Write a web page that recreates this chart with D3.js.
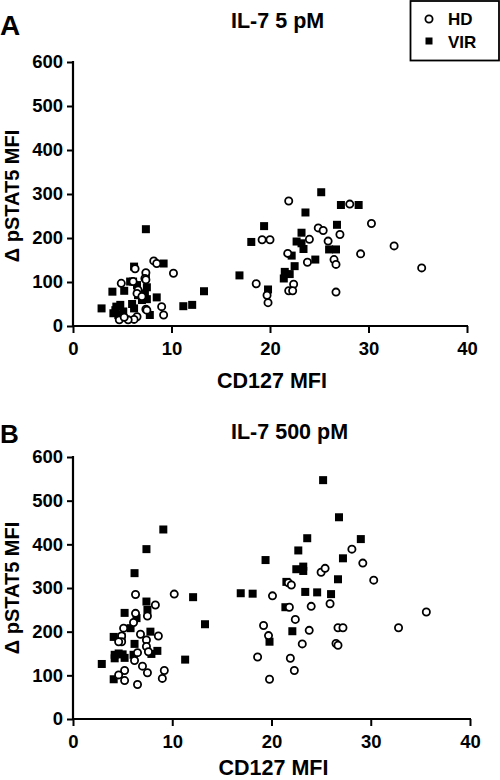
<!DOCTYPE html>
<html><head><meta charset="utf-8">
<script src="https://cdn.jsdelivr.net/npm/d3@7"></script>
<style>
body{margin:0;background:#fff}
svg{display:block}
text{font-family:"Liberation Sans",Arial,Helvetica,sans-serif;font-weight:bold;fill:#000}
</style></head><body>
<script>
// ---- data ----
const xTicks = [0, 10, 20, 30, 40];
const yTicks = [0, 100, 200, 300, 400, 500, 600];
const panelLetters = ["A", "B"];
const panelTitles = ["IL-7 5 pM", "IL-7 500 pM"];
const seriesNames = ["HD", "VIR"];
const xLabel = "CD127 MFI";
const yLabel = "\u0394 pSTAT5 MFI";

// Panel A, HD (open circles) [CD127 MFI, ΔpSTAT5 MFI]
const hdA = [[21.9,284],[28.1,277],[30.3,233],[24.9,223],[25.4,217],[27.1,208],[19.2,196],[20.0,196],[24.0,197],[25.9,193],[21.8,165],[29.2,164],[26.5,151],[26.7,140],[23.8,145],[18.6,96],[22.4,95],[19.7,70],[19.8,53],[21.9,80],[22.3,80],[26.7,77],[10.2,120],[32.6,182],[35.4,132],
  [8.2,148],[8.5,142],[4.9,97],[7.4,121],[7.3,108],[6.1,101],[6.6,82],[6.5,74],[9.0,44],[9.2,25],[7.4,38],[6.5,21],[6.2,15],[5.6,14],[7.0,67],[6.3,130],[7.4,105],[7.5,36],[4.7,14],[5.2,20]];
// Panel A, VIR (filled squares)
const virA = [[25.2,304],[23.6,258],[27.2,275],[29.0,275],[19.4,227],[18.1,191],[23.2,212],[22.7,192],[23.2,188],[23.4,175],[26.8,230],[26.0,174],[26.7,174],[24.6,151],[22.2,160],[22.5,136],[21.5,123],[22.0,118],[21.4,108],[16.9,115],[19.8,83],[13.3,79],[12.1,48],[11.2,45],
  [7.4,220],[6.2,135],[9.2,142],[4.0,78],[5.2,80],[5.8,101],[6.1,101],[6.5,93],[7.4,116],[7.5,88],[6.6,70],[8.5,65],[7.5,61],[2.9,40],[4.4,44],[4.8,48],[4.1,29],[4.6,25],[4.9,21],[4.3,36],[5.1,33],[6.0,50],[6.2,40],[7.8,25],[7.0,59],[7.3,74]];
// Panel B, HD
const hdB = [[28.1,389],[29.2,357],[30.3,318],[25.0,336],[25.4,345],[21.7,312],[22.0,307],[20.1,282],[10.2,286],[21.8,256],[24.0,258],[25.9,264],[22.4,228],[19.2,214],[19.7,191],[23.8,203],[23.1,172],[26.7,209],[27.2,209],[26.5,173],[26.7,169],[18.6,142],[21.9,139],[22.3,111],[19.8,91],[32.8,209],[35.6,245],
  [6.3,285],[8.3,261],[6.3,242],[7.5,236],[6.1,221],[5.1,208],[4.9,190],[6.8,194],[8.6,190],[4.9,177],[4.6,177],[7.4,181],[7.4,166],[7.6,154],[6.5,152],[6.2,134],[7.0,121],[7.5,106],[9.2,111],[9.0,93],[5.2,111],[4.6,101],[5.2,88],[6.5,79]];
// Panel B, VIR
const virB = [[25.2,547],[26.8,462],[23.6,414],[29.0,412],[22.7,386],[19.4,364],[27.2,368],[22.5,343],[23.2,349],[23.2,339],[26.7,320],[21.5,314],[16.9,288],[18.1,287],[23.4,291],[24.6,290],[26.0,286],[12.1,279],[21.4,256],[22.1,201],[19.8,177],[13.3,217],[11.3,136],
  [9.1,434],[7.4,389],[6.2,334],[7.4,269],[7.5,250],[5.2,243],[6.4,231],[5.8,208],[7.8,200],[4.1,188],[4.9,188],[6.2,172],[8.5,156],[7.9,149],[4.2,147],[5.0,148],[4.2,139],[6.1,147],[2.9,126],[4.1,91],[5.2,140],[4.6,150]];

// ---- drawing ----
const W = 500, H = 780;
const svg = d3.select("body").append("svg").attr("width", W).attr("height", H);

const layout = [
  {hd: hdA, vir: virA, xl: 73, xr: 467, yb: 326, yt: 62, letterY: 35, letterSize: 28, titleY: 28, xLabY: 388, yLabC: 196},
  {hd: hdB, vir: virB, xl: 73, xr: 470, yb: 719, yt: 457, letterY: 443, letterSize: 26, titleY: 439, xLabY: 775, yLabC: 588}
];

layout.forEach((p, i) => {
  const x = d3.scaleLinear().domain([0, 40]).range([p.xl, p.xr]);
  const y = d3.scaleLinear().domain([0, 600]).range([p.yb, p.yt]);
  const g = svg.append("g");

  // letter & title
  g.append("text").attr("x", 0).attr("y", p.letterY).style("font-size", p.letterSize + "px").text(panelLetters[i]);
  g.append("text").attr("x", 231).attr("y", p.titleY).style("font-size", "21.5px").text(panelTitles[i]);

  // axes
  const xa = g.append("g").attr("transform", `translate(0,${p.yb})`)
    .call(d3.axisBottom(x).tickValues(xTicks).tickFormat(d3.format("d")).tickSize(7).tickSizeOuter(0).tickPadding(9));
  const ya = g.append("g").attr("transform", `translate(${p.xl},0)`)
    .call(d3.axisLeft(y).tickValues(yTicks).tickFormat(d3.format("d")).tickSize(6).tickSizeOuter(0).tickPadding(4));
  [xa, ya].forEach(a => {
    a.select(".domain").attr("stroke", "#000").attr("stroke-width", 2.2);
    a.selectAll(".tick line").attr("stroke", "#000").attr("stroke-width", 2);
    a.selectAll(".tick text").style("font-size", "18.5px").attr("fill", "#000");
  });
  // extend domain lines to cover ticks at the corners
  xa.select(".domain").attr("d", `M${p.xl - 1},0H${p.xr + 1}`);
  ya.select(".domain").attr("d", `M0,${p.yt - 1}V${p.yb + 1}`);

  // axis labels
  g.append("text").attr("x", (p.xl + p.xr) / 2 + 2).attr("y", p.xLabY).attr("text-anchor", "middle")
    .style("font-size", "21.5px").text(xLabel);
  g.append("text").attr("transform", `translate(19,${p.yLabC}) rotate(-90)`).attr("text-anchor", "middle")
    .style("font-size", "20px").text(yLabel);

  // points
  g.append("g").selectAll("rect").data(p.vir).join("rect")
    .attr("x", d => x(d[0]) - 4).attr("y", d => y(d[1]) - 4)
    .attr("width", 8).attr("height", 8).attr("fill", "#000");
  g.append("g").selectAll("circle").data(p.hd).join("circle")
    .attr("cx", d => x(d[0])).attr("cy", d => y(d[1])).attr("r", 3.6)
    .attr("fill", "#fff").attr("stroke", "#000").attr("stroke-width", 1.8);
});

// legend
const lg = svg.append("g");
lg.append("rect").attr("x", 410.5).attr("y", 1).attr("width", 88.5).attr("height", 59.5)
  .attr("fill", "none").attr("stroke", "#000").attr("stroke-width", 1.8);
lg.append("circle").attr("cx", 429).attr("cy", 19).attr("r", 3.6).attr("fill", "#fff").attr("stroke", "#000").attr("stroke-width", 1.8);
lg.append("rect").attr("x", 425.5).attr("y", 37.5).attr("width", 7).attr("height", 7).attr("fill", "#000");
lg.append("text").attr("x", 448).attr("y", 25).style("font-size", "17px").text(seriesNames[0]);
lg.append("text").attr("x", 448).attr("y", 47.5).style("font-size", "17px").text(seriesNames[1]);
</script>
</body></html>
